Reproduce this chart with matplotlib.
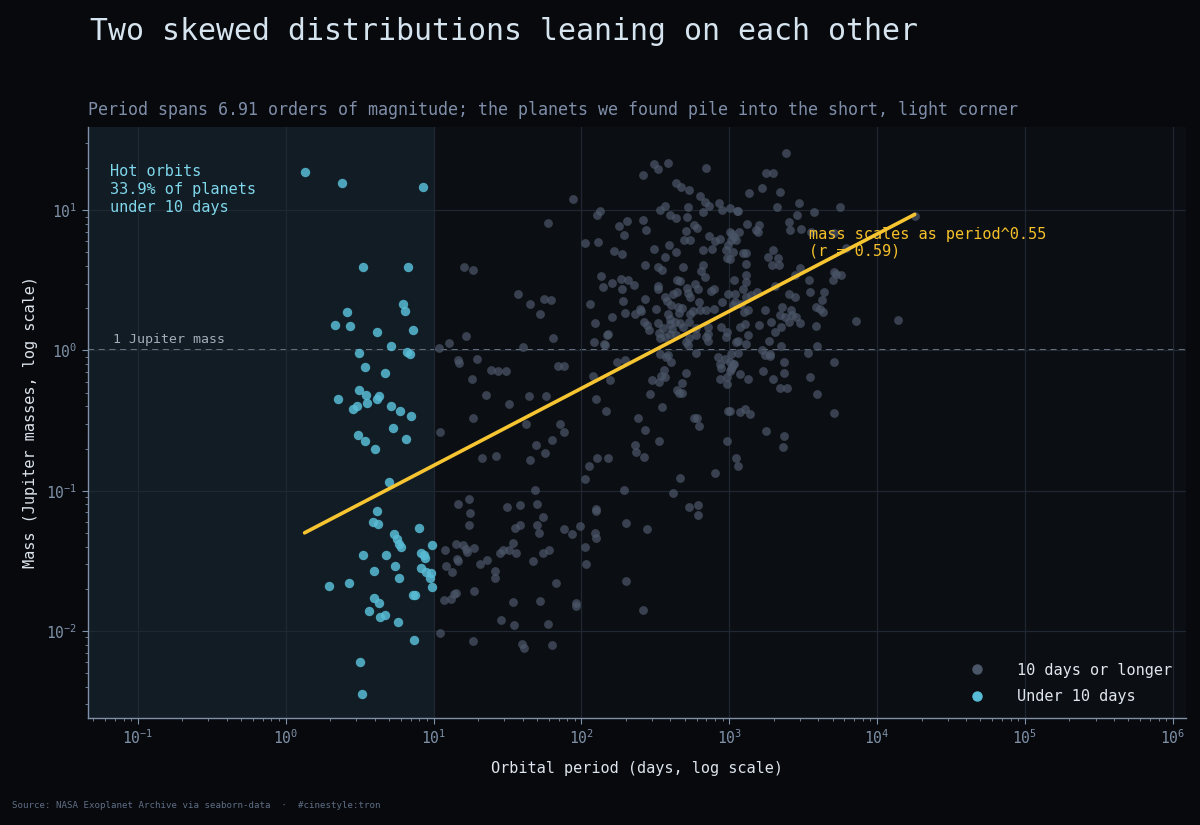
import numpy as np
import matplotlib.pyplot as plt
from matplotlib.lines import Line2D

# (log10 period in days, log10 mass in Jupiter masses)
hot_pts = [
    (0.127, 1.27), (0.382, 1.195), (0.930, 1.164), (0.524, 0.595), (0.829, 0.593),
    (0.792, 0.333), (0.804, 0.281), (0.411, 0.274), (0.335, 0.179), (0.436, 0.171),
    (0.614, 0.129), (0.858, 0.145), (0.709, 0.031), (0.495, -0.019), (0.817, -0.014),
    (0.842, -0.024), (0.533, -0.117), (0.668, -0.159), (0.495, -0.281), (0.542, -0.317),
    (0.630, -0.324), (0.616, -0.345), (0.355, -0.345), (0.549, -0.374), (0.479, -0.395),
    (0.454, -0.417), (0.714, -0.395), (0.775, -0.433), (0.849, -0.467), (0.725, -0.552),
    (0.486, -0.602), (0.538, -0.643), (0.811, -0.633), (0.603, -0.705), (0.698, -0.940),
    (0.614, -1.145), (0.587, -1.221), (0.623, -1.238), (0.901, -1.267), (0.734, -1.310),
    (0.752, -1.345), (0.765, -1.381), (0.777, -1.398), (0.991, -1.388), (0.520, -1.457),
    (0.678, -1.457), (0.914, -1.443), (0.934, -1.457), (0.944, -1.483), (0.594, -1.569),
    (0.736, -1.536), (0.765, -1.621), (0.914, -1.548), (0.950, -1.576), (0.984, -1.583),
    (0.977, -1.624), (0.989, -1.683), (0.292, -1.679), (0.427, -1.660), (0.599, -1.767),
    (0.630, -1.798), (0.860, -1.743), (0.874, -1.745), (0.560, -1.857), (0.637, -1.900),
    (0.673, -1.886), (0.756, -1.933), (0.867, -2.064), (0.501, -2.224), (0.515, -2.448),
]

long_pts = [
    (1.036, 0.019), (1.104, 0.055), (1.043, -0.583), (1.079, -1.424), (1.086, -1.536),
    (1.068, -1.781), (1.043, -2.014),
    (2.024, 0.766), (2.114, 0.774), (1.203, 0.598), (1.266, 0.574), (2.135, 0.531),
    (2.143, 0.452), (1.573, 0.400), (1.652, 0.333), (1.746, 0.367), (1.796, 0.362),
    (1.719, 0.262), (2.055, 0.329), (2.094, 0.193), (1.217, 0.100), (1.807, 0.091),
    (1.607, 0.024), (2.083, 0.059), (2.150, 0.048), (2.173, 0.109), (1.162, -0.069),
    (1.174, -0.093), (1.296, -0.060), (1.262, -0.202), (1.390, -0.138), (1.435, -0.145),
    (1.487, -0.148), (1.841, -0.110), (1.884, -0.110), (2.078, -0.183), (1.352, -0.317),
    (1.510, -0.383), (1.645, -0.326), (1.762, -0.326), (2.096, -0.345), (2.164, -0.431),
    (1.266, -0.479), (1.625, -0.524), (1.855, -0.521), (1.884, -0.583), (1.800, -0.638),
    (1.690, -0.674), (1.753, -0.729), (1.325, -0.764), (1.419, -0.750), (1.654, -0.781),
    (2.051, -0.824), (2.108, -0.769), (2.182, -0.767), (2.026, -0.919), (1.685, -0.995),
    (1.167, -1.095), (1.237, -1.062), (1.244, -1.157), (1.239, -1.243), (1.496, -1.117),
    (1.584, -1.102), (1.702, -1.098), (1.737, -1.188), (2.096, -1.131), (2.101, -1.143),
    (1.550, -1.267), (1.584, -1.243), (1.702, -1.243), (1.715, -1.302), (1.880, -1.276),
    (1.936, -1.305), (1.988, -1.248), (2.094, -1.300), (2.101, -1.336), (2.022, -1.398),
    (2.033, -1.524), (1.153, -1.381), (1.201, -1.388), (1.221, -1.412), (1.225, -1.440),
    (1.271, -1.410), (1.537, -1.371), (1.507, -1.419), (1.469, -1.421), (1.447, -1.445),
    (1.555, -1.445), (1.737, -1.443), (1.780, -1.419), (1.158, -1.486), (1.162, -1.500),
    (1.127, -1.579), (1.316, -1.524), (1.363, -1.493), (1.415, -1.569), (1.415, -1.619),
    (1.670, -1.498), (1.830, -1.657), (1.117, -1.774), (1.137, -1.733), (1.153, -1.729),
    (1.275, -1.714), (1.537, -1.790), (1.722, -1.786), (1.965, -1.798), (1.961, -1.821),
    (1.455, -1.921), (1.546, -1.960), (1.771, -1.948), (1.269, -2.071), (1.597, -2.095),
    (1.611, -2.119), (1.800, -2.098), (2.299, -1.643), (2.414, -1.850), (1.940, 1.079),
    (1.771, 0.907),
    (2.493, 1.326), (2.520, 1.293), (2.588, 1.338), (2.840, 1.302), (2.416, 1.248),
    (2.637, 1.191), (2.676, 1.162), (2.730, 1.141), (2.802, 1.102), (2.838, 1.055),
    (2.861, 1.033), (2.928, 1.050), (3.007, 1.016), (3.052, 0.993), (2.949, 1.000),
    (2.721, 1.026), (2.565, 1.031), (2.534, 1.000), (2.822, 0.990), (2.123, 0.995),
    (2.103, 0.969), (2.597, 0.962), (2.642, 0.945), (2.716, 0.950), (2.308, 0.924),
    (2.256, 0.886), (2.419, 0.933), (2.439, 0.857), (2.290, 0.821), (2.764, 0.893),
    (2.784, 0.876), (2.710, 0.848), (2.691, 0.786), (2.737, 0.790), (2.861, 0.819),
    (2.901, 0.783), (2.940, 0.793), (3.003, 0.845), (3.030, 0.810), (3.048, 0.790),
    (2.223, 0.710), (2.277, 0.686), (2.491, 0.724), (2.595, 0.750), (2.642, 0.702),
    (2.565, 0.667), (2.825, 0.717), (2.883, 0.726), (2.976, 0.719), (2.991, 0.750),
    (2.987, 0.662), (3.003, 0.655), (2.432, 0.607), (2.518, 0.595), (2.547, 0.571),
    (2.689, 0.595), (2.822, 0.607), (2.811, 0.569), (2.838, 0.524), (2.207, 0.483),
    (2.265, 0.512), (2.315, 0.505), (2.274, 0.436), (2.358, 0.464), (2.518, 0.460),
    (2.520, 0.436), (2.646, 0.500), (2.664, 0.495), (2.716, 0.448), (2.771, 0.476),
    (2.788, 0.436), (2.563, 0.381), (2.579, 0.352), (2.619, 0.405), (2.649, 0.417),
    (2.608, 0.321), (2.653, 0.310), (2.723, 0.412), (2.732, 0.381), (2.876, 0.424),
    (2.897, 0.436), (2.991, 0.405), (3.041, 0.405), (2.953, 0.345), (3.041, 0.345),
    (2.284, 0.355), (2.428, 0.367), (2.292, 0.267), (2.365, 0.260), (2.394, 0.298),
    (2.405, 0.281), (2.502, 0.295), (2.585, 0.262), (2.597, 0.226), (2.660, 0.269),
    (2.680, 0.300), (2.793, 0.345), (2.845, 0.290), (2.894, 0.298), (2.800, 0.286),
    (2.732, 0.262), (2.754, 0.281), (2.204, 0.236), (2.421, 0.202), (2.443, 0.179),
    (2.457, 0.143), (2.518, 0.195), (2.551, 0.162), (2.597, 0.190), (2.631, 0.202),
    (2.615, 0.155), (2.664, 0.195), (2.685, 0.167), (2.725, 0.202), (2.182, 0.114),
    (2.524, 0.124), (2.563, 0.095), (2.597, 0.119), (2.642, 0.107), (2.773, 0.162),
    (2.856, 0.167), (2.947, 0.167), (2.984, 0.131), (2.725, 0.091), (2.777, 0.107),
    (2.845, 0.095),
    (2.157, 0.036), (2.534, 0.091), (2.710, 0.059), (2.723, 0.036), (2.773, -0.019),
    (2.856, 0.067), (2.854, 0.114), (2.980, 0.095), (3.048, 0.059), (2.240, -0.083),
    (2.297, -0.067), (2.534, -0.024), (2.570, -0.048), (2.604, -0.083), (2.588, -0.036),
    (2.196, -0.214), (2.480, -0.214), (2.525, -0.226), (2.540, -0.179), (2.563, -0.190),
    (2.556, -0.136), (2.707, -0.164), (2.683, -0.231), (2.646, -0.281), (2.658, -0.300),
    (2.680, -0.302), (2.924, -0.048), (2.935, -0.095), (2.942, -0.126), (2.969, -0.060),
    (3.003, -0.083), (3.018, -0.119), (3.030, -0.095), (3.003, -0.143), (2.935, -0.202),
    (2.987, -0.190), (2.984, -0.238), (2.461, -0.314), (2.547, -0.400), (2.382, -0.481),
    (2.430, -0.567), (2.761, -0.481), (2.779, -0.481), (2.795, -0.536), (2.989, -0.431),
    (2.527, -0.648), (2.362, -0.676), (2.367, -0.726), (2.426, -0.762), (2.984, -0.648),
    (3.048, -0.769), (3.059, -0.821), (2.669, -0.912), (2.906, -0.876), (2.290, -0.995),
    (2.619, -1.017), (2.727, -1.119), (2.788, -1.100), (2.788, -1.171), (2.304, -1.233),
    (2.443, -1.276),
    (3.386, 1.405), (3.251, 1.262), (3.298, 1.264), (3.224, 1.160), (3.341, 1.131),
    (3.131, 1.119), (3.472, 1.048), (3.325, 1.021), (3.461, 0.964), (3.571, 0.988),
    (3.752, 1.024), (3.062, 0.995), (3.404, 0.917), (3.409, 0.857), (3.488, 0.864),
    (3.120, 0.900), (3.201, 0.893), (3.183, 0.857), (3.194, 0.845), (3.021, 0.833),
    (3.066, 0.845), (3.014, 0.786), (3.025, 0.702), (3.093, 0.695), (3.111, 0.695),
    (3.296, 0.714), (3.262, 0.667), (3.330, 0.662), (3.292, 0.607), (3.334, 0.607),
    (3.111, 0.619), (3.481, 0.588), (3.788, 0.733), (3.706, 0.560), (3.725, 0.548),
    (3.758, 0.536), (3.702, 0.500), (3.030, 0.500), (3.111, 0.536), (3.111, 0.488),
    (3.093, 0.440), (3.307, 0.457), (3.442, 0.536), (3.539, 0.500), (3.190, 0.417),
    (3.147, 0.393), (3.116, 0.381), (3.402, 0.405), (3.447, 0.381), (3.549, 0.417),
    (3.643, 0.417), (3.630, 0.362), (3.025, 0.321), (3.082, 0.333), (3.127, 0.286),
    (3.097, 0.274), (3.244, 0.290), (3.359, 0.310), (3.420, 0.286), (3.341, 0.255),
    (3.375, 0.238), (3.427, 0.250), (3.454, 0.238), (3.476, 0.195), (3.404, 0.202),
    (3.589, 0.310), (3.612, 0.298), (3.634, 0.274), (3.585, 0.171), (3.860, 0.210),
    (4.142, 0.214), (3.070, 0.167), (3.104, 0.190), (3.201, 0.183), (3.280, 0.202),
    (3.127, 0.107), (3.307, 0.131), (3.352, 0.167),
    (3.057, 0.067), (3.113, 0.048), (3.267, 0.067), (3.352, 0.031), (3.594, 0.031),
    (3.535, -0.021), (3.709, -0.083), (3.224, 0.000), (3.240, -0.031), (3.273, -0.024),
    (3.278, -0.043), (3.014, -0.024), (3.059, -0.019), (3.025, -0.095), (3.014, -0.131),
    (3.370, -0.083), (3.370, -0.162), (3.228, -0.148), (3.296, -0.205), (3.346, -0.267),
    (3.390, -0.267), (3.070, -0.171), (3.127, -0.200), (3.544, -0.190), (3.594, -0.314),
    (3.003, -0.429), (3.070, -0.440), (3.104, -0.417), (3.143, -0.452), (3.706, -0.443),
    (3.251, -0.571), (3.368, -0.610), (3.364, -0.686),
    (4.254, 0.959), (3.709, 0.840), (3.555, 0.845),
]

fit_slope = 0.55       # mass ~ period^0.55
fit_intercept = -1.37  # log10 mass at period = 1 day
corr_r = 0.59
hot_share = 33.9
period_span = 6.91

hot = 10 ** np.array(hot_pts)
far = 10 ** np.array(long_pts)

plt.rcParams['font.family'] = ['DejaVu Sans Mono']
plt.rcParams['mathtext.fontset'] = 'dejavusans'

fig = plt.figure(figsize=(12, 8.25), dpi=100, facecolor='#07090d')
ax = fig.add_axes([0.0733, 0.1297, 0.9147, 0.7164])
ax.set_facecolor('#0b0e13')
ax.set_xscale('log')
ax.set_yscale('log')
ax.set_xticks([1e-1, 1, 1e1, 1e2, 1e3, 1e4, 1e5, 1e6])
ax.set_yticks([1e-2, 1e-1, 1, 1e1])
ax.set_xlim(0.0459, 1.22e6)
ax.set_ylim(10 ** -2.62, 10 ** 1.593)

# hot-orbit band
ax.axvspan(0.0459, 10, color='#111c24', zorder=0, lw=0)
ax.grid(True, which='major', color='#1e2732', lw=0.9, zorder=0.5)

ax.scatter(far[:, 0], far[:, 1], s=40, color='#4b5669', alpha=0.72, lw=0, zorder=2)
ax.scatter(hot[:, 0], hot[:, 1], s=46, color='#58bcd6', alpha=0.85, lw=0, zorder=3)

# power-law fit
p_all = np.concatenate([hot[:, 0], far[:, 0]])
px = np.array([p_all.min(), p_all.max()])
ax.plot(px, 10 ** (fit_intercept + fit_slope * np.log10(px)), color='#f7c531', lw=2.6,
        solid_capstyle='round', zorder=4)

ax.axhline(1, color='#8f9aab', ls='--', lw=1.1, dashes=(4, 3), zorder=1.5)
ax.text(0.068, 1.08, '1 Jupiter mass', color='#a3adbb', fontsize=9.5, va='bottom')

ax.text(0.02, 0.937, 'Hot orbits\n%.1f%% of planets\nunder 10 days' % hot_share,
        transform=ax.transAxes, color='#7fd7ec', fontsize=11, va='top', linespacing=1.25)
ax.text(0.657, 0.83, 'mass scales as period^%.2f\n(r = %.2f)' % (fit_slope, corr_r),
        transform=ax.transAxes, color='#f5c02a', fontsize=11, va='top', linespacing=1.1)

for s in ['top', 'right']:
    ax.spines[s].set_visible(False)
for s in ['left', 'bottom']:
    ax.spines[s].set_color('#7f91a8')
    ax.spines[s].set_linewidth(1.0)
ax.tick_params(which='both', colors='#7f91a8', labelsize=10.5)
ax.tick_params(which='major', length=4)
ax.tick_params(which='minor', length=2)

ax.set_xlabel('Orbital period (days, log scale)', color='#dde4ec', fontsize=11, labelpad=10)
ax.set_ylabel('Mass (Jupiter masses, log scale)', color='#dde4ec', fontsize=11, labelpad=6)

handles = [
    Line2D([], [], marker='o', ls='', color='#4b5669', markersize=6.5),
    Line2D([], [], marker='o', ls='', color='#58bcd6', markersize=6.5),
]
leg = ax.legend(handles, ['10 days or longer', 'Under 10 days'], loc='lower right',
                bbox_to_anchor=(1.0, 0.0), frameon=False, fontsize=11,
                handletextpad=1.6, labelspacing=0.75)
for t in leg.get_texts():
    t.set_color('#dfe6ee')

fig.text(90 / 1200, 1 - 31 / 825, 'Two skewed distributions leaning on each other',
         color='#d6e4ef', fontsize=21.5, va='center')
fig.text(88 / 1200, 1 - 110 / 825,
         'Period spans %.2f orders of magnitude; the planets we found pile into the short, light corner' % period_span,
         color='#7f8ea8', fontsize=12, va='center')
fig.text(12 / 1200, 1 - 805 / 825,
         'Source: NASA Exoplanet Archive via seaborn-data  \u00b7  #cinestyle:tron',
         color='#5f6e85', fontsize=6.6, va='center')

fig.savefig('out.png', dpi=100, facecolor=fig.get_facecolor())
